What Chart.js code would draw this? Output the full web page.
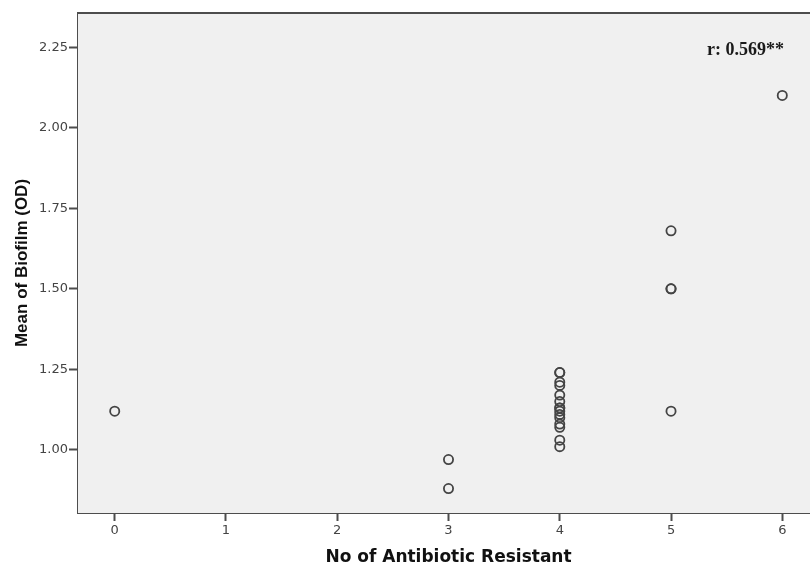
<!DOCTYPE html>
<html>
<head>
<meta charset="utf-8">
<script src="https://cdn.jsdelivr.net/npm/chart.js@4/dist/chart.umd.min.js"></script>
<style>
  html, body { margin: 0; padding: 0; background: #fff; overflow: hidden; }
  #wrap { width: 830px; height: 568px; }
</style>
</head>
<body>
<div id="wrap"><canvas id="chart"></canvas></div>
<script>
(function () {
  "use strict";

  // ── Data ──
  var resistCounts = [0, 3, 3, 4, 4, 4, 4, 4, 4, 4, 4, 4, 4, 4, 4, 4, 4, 4, 5, 5, 5, 5, 6];
  var biofilmMeans = [1.12, 0.97, 0.88, 1.24, 1.24, 1.21, 1.20, 1.17, 1.15, 1.13, 1.13, 1.12, 1.11, 1.10, 1.08, 1.07, 1.03, 1.01, 1.68, 1.50, 1.50, 1.12, 2.10];
  var xTickValues = [0, 1, 2, 3, 4, 5, 6];
  var yTickValues = [1.00, 1.25, 1.50, 1.75, 2.00, 2.25];
  var corrLabel = "r: 0.569**";

  var points = resistCounts.map(function (x, i) { return { x: x, y: biofilmMeans[i] }; });

  var AXIS = "#4d4d4d", TXT = "#444444";
  var WIDE = "'DejaVu Sans', Verdana, sans-serif";

  // plot background, top frame line and correlation note
  var framePlugin = {
    id: "frame",
    beforeDatasetsDraw: function (chart) {
      var a = chart.chartArea, ctx = chart.ctx;
      ctx.save();
      ctx.fillStyle = "#f0f0f0";
      ctx.fillRect(a.left, a.top, a.right - a.left, a.bottom - a.top);
      ctx.strokeStyle = AXIS;
      ctx.lineWidth = 2;
      ctx.beginPath();
      ctx.moveTo(a.left - 1, a.top);
      ctx.lineTo(a.right, a.top);
      ctx.stroke();
      ctx.restore();
    },
    afterDraw: function (chart) {
      var ctx = chart.ctx;
      var x = chart.scales.x.getPixelForValue(5.67);
      var y = chart.scales.y.getPixelForValue(2.24);
      ctx.save();
      ctx.font = "bold 18px 'Liberation Serif', 'Times New Roman', serif";
      ctx.fillStyle = "#1a1a1a";
      ctx.textAlign = "center";
      ctx.textBaseline = "middle";
      ctx.fillText(corrLabel, x, y);
      ctx.restore();
    }
  };

  new Chart(document.getElementById("chart"), {
    type: "scatter",
    data: {
      datasets: [{
        data: points,
        pointStyle: "circle",
        pointRadius: 4.6,
        pointBorderWidth: 1.8,
        pointBorderColor: "#444",
        pointBackgroundColor: "rgba(0,0,0,0)"
      }]
    },
    options: {
      responsive: true,
      maintainAspectRatio: false,
      animation: false,
      layout: { padding: { left: 0, top: 13, right: 11, bottom: 0 } },
      plugins: { legend: { display: false }, tooltip: { enabled: false } },
      scales: {
        x: {
          type: "linear",
          min: -0.33,
          max: 6.33,
          afterBuildTicks: function (s) { s.ticks = xTickValues.map(function (v) { return { value: v }; }); },
          afterFit: function (s) { s.height = 55; },
          grid: { drawOnChartArea: false, drawTicks: true, tickLength: 8, tickWidth: 2, color: AXIS },
          border: { display: true, color: AXIS, width: 2 },
          ticks: { color: TXT, padding: 2, font: { family: WIDE, size: 13 } },
          title: {
            display: true,
            text: "No of Antibiotic Resistant",
            color: "#111",
            padding: { top: 0, bottom: 0 },
            font: { family: WIDE, size: 17, weight: "bold" }
          }
        },
        y: {
          min: 0.804,
          max: 2.356,
          afterBuildTicks: function (s) { s.ticks = yTickValues.map(function (v) { return { value: v }; }); },
          afterFit: function (s) { s.width = 78; },
          grid: { drawOnChartArea: false, drawTicks: true, tickLength: 9, tickWidth: 2, color: AXIS },
          border: { display: true, color: AXIS, width: 2 },
          ticks: {
            color: TXT, padding: 1,
            font: { family: WIDE, size: 13 },
            callback: function (v) { return Number(v).toFixed(2); }
          },
          title: {
            display: true,
            text: "Mean of Biofilm (OD)",
            color: "#111",
            padding: { top: 12, bottom: 0 },
            font: { family: "'Liberation Sans', Arial, sans-serif", size: 17, weight: "bold" }
          }
        }
      }
    },
    plugins: [framePlugin]
  });
})();
</script>
</body>
</html>
